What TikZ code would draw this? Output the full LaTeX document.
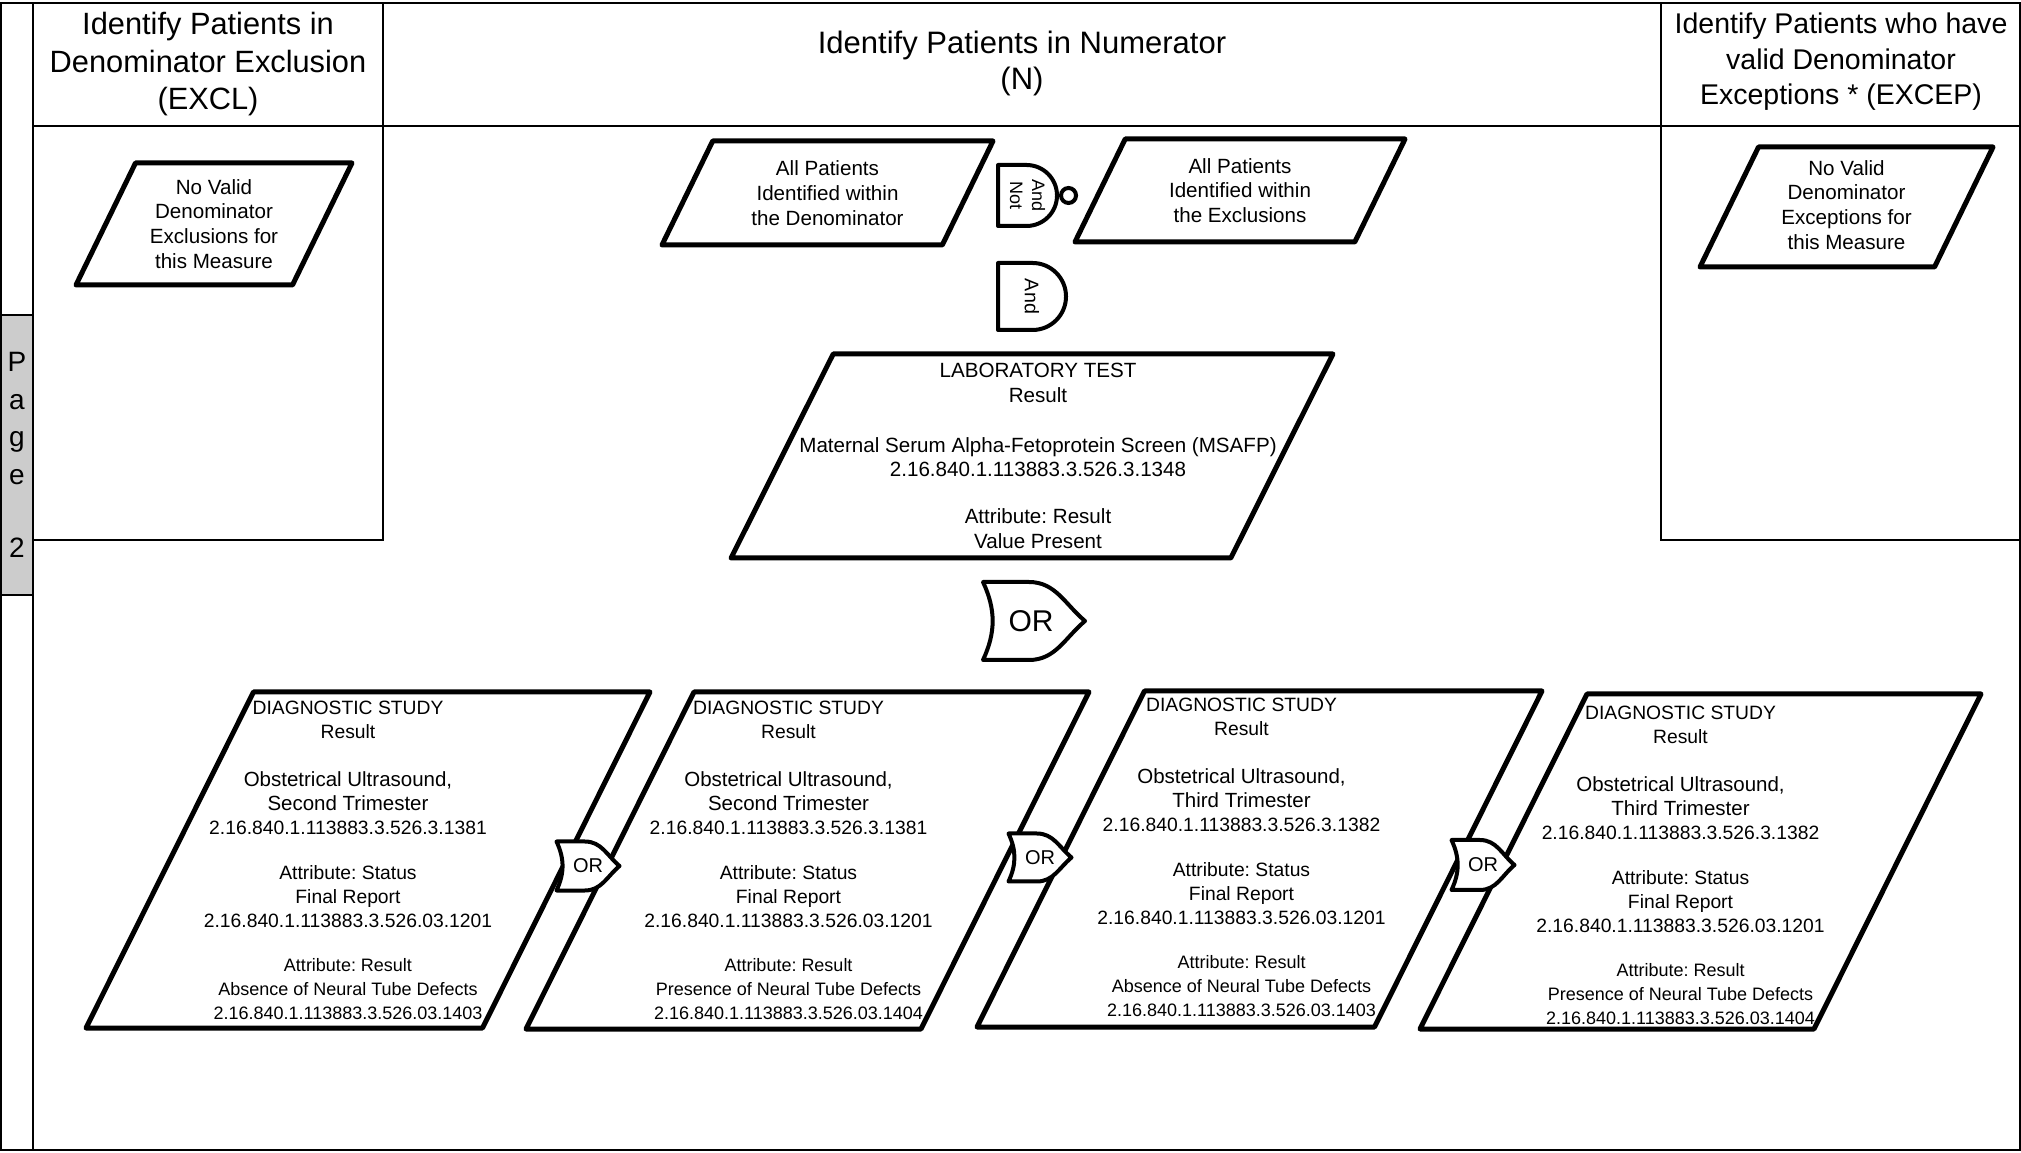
\documentclass[tikz,border=0pt]{standalone}
\usepackage{fontspec}
\setmainfont{Liberation Sans}
\frenchspacing
\usetikzlibrary{shapes.geometric, calc}
\usetikzlibrary{positioning}

\newcommand{\stfont}{\fontsize{5.49pt}{6.83pt}\selectfont}
\newcommand{\obsfont}{\fontsize{5.83pt}{6.83pt}\selectfont}
\newcommand{\attrfont}{\fontsize{5.12pt}{6.83pt}\selectfont}

\tikzstyle{frameline} = [draw=black, line width=0.02cm]
\tikzstyle{header} = [align=center, inner sep=0pt]
% size of a data element: inner ysep = half height, inner xsep = half width - height*cot(angle)
\tikzstyle{dataelement} = [trapezium, trapezium left angle=64, trapezium right angle=116, draw=black, line width=0.05cm, line join=round]
\tikzstyle{study} = [dataelement, trapezium left angle=63.5, trapezium right angle=116.5, inner xsep=1.145cm, inner ysep=1.68cm]
\tikzstyle{elementtext} = [align=center, inner sep=0pt, font=\fontsize{5.86pt}{7.03pt}\selectfont]
\tikzstyle{studytext} = [align=center, inner sep=0pt, font=\stfont]
\tikzstyle{gate} = [rectangle, inner sep=0pt, outer sep=0pt]
\tikzstyle{gateline} = [draw=black, fill=white, line width=0.04cm, line join=round]
\tikzstyle{smallor} = [gate, minimum width=0.63cm, minimum height=0.49cm]
\tikzstyle{gatetext} = [inner sep=0pt, font=\fontsize{5.69pt}{6.8pt}\selectfont]
\tikzstyle{bubble} = [circle, draw=black, fill=white, line width=0.04cm, minimum size=0.15cm, inner sep=0pt]

% gate outlines, drawn from the anchors of an empty node
\newcommand{\andoutline}[1]{%
  \draw[gateline] let \p1=(#1.north east), \p2=(#1.south east), \n1={0.5*(\y1-\y2)} in
    (#1.south west) -- (#1.north west) -- (\x1-\n1,\y1) arc[start angle=90, end angle=-90, radius=\n1] -- cycle;}
\newcommand{\oroutline}[1]{%
  \draw[gateline] (#1.north west) -- ($(#1.north west)!0.45!(#1.north east)$)
    to[out=0, in=140] (#1.east)
    to[out=-140, in=0] ($(#1.south west)!0.45!(#1.south east)$)
    -- (#1.south west) to[out=65, in=-65] (#1.north west) -- cycle;}

\begin{document}
\begin{tikzpicture}
    \useasboundingbox (0,0) rectangle (20.21,-11.53);
    %page frame and columns
    \draw[frameline] (0.01,-0.03) rectangle (20.20,-11.50);
    \draw[frameline] (0.33,-0.03) -- (0.33,-11.50);
    \draw[frameline] (0.33,-1.26) -- (20.20,-1.26);
    \draw[frameline] (3.83,-0.03) -- (3.83,-5.40) -- (0.33,-5.40);
    \draw[frameline] (16.61,-0.03) -- (16.61,-5.40) -- (20.20,-5.40);
    \node (pagetab) [frameline, fill=gray!40, minimum width=0.32cm, minimum height=2.8cm, inner sep=0pt] at (0.17,-4.55) {};
    \node (pagetext) [align=center, inner sep=0pt, font=\fontsize{7.97pt}{10.67pt}\selectfont] at (pagetab) {P\\a\\g\\e\\[0.355cm]2};

    %column headings
    \node (exclhead) [header, font=\fontsize{8.76pt}{10.67pt}\selectfont] at (2.08,-0.645) {Identify Patients in\\Denominator Exclusion\\(EXCL)};
    \node (numhead) [header, font=\fontsize{8.82pt}{10.24pt}\selectfont] at (10.22,-0.63) {Identify Patients in Numerator\\(N)};
    \node (excephead) [header, font=\fontsize{8.11pt}{10.1pt}\selectfont] at (18.41,-0.62) {Identify Patients who have\\valid Denominator\\Exceptions * (EXCEP)};

    %exclusions and exceptions
    \node (noexcl) [dataelement, inner xsep=0.785cm, inner ysep=0.61cm] at (2.14,-2.24) {};
    \node (noexcltext) [elementtext] at (noexcl) {No Valid\\Denominator\\Exclusions for\\this Measure};
    \node (noexcep) [dataelement, inner xsep=0.88cm, inner ysep=0.6cm] at (18.465,-2.07) {};
    \node (noexceptext) [elementtext] at ([yshift=0.02cm]noexcep.center) {No Valid\\Denominator\\Exceptions for\\this Measure};

    %numerator
    \node (denom) [dataelement, inner xsep=1.148cm, inner ysep=0.52cm] at (8.275,-1.93) {};
    \node (denomtext) [elementtext] at (denom) {All Patients\\Identified within\\the Denominator};
    \node (andnot) [gate, minimum width=0.59cm, minimum height=0.61cm] at (10.275,-1.955) {};
    \andoutline{andnot}
    \node (andnottext) [gatetext, rotate=-90, align=center, font=\fontsize{5.12pt}{6.26pt}\selectfont] at (andnot) {And\\Not};
    \node (notbubble) [bubble, right=0.02cm of andnot] {};
    \node (exclall) [dataelement, inner xsep=1.148cm, inner ysep=0.515cm] at (12.40,-1.905) {};
    \node (exclalltext) [elementtext] at (exclall) {All Patients\\Identified within\\the Exclusions};
    \node (andgate) [gate, minimum width=0.68cm, minimum height=0.67cm, below right=0.37cm and 0cm of andnot.south west] {};
    \andoutline{andgate}
    \node (andgatetext) [gatetext, rotate=-90, font=\fontsize{5.6pt}{6.7pt}\selectfont] at (andgate) {And};

    \node (labtest) [dataelement, trapezium left angle=63.4, trapezium right angle=116.6, inner xsep=1.988cm, inner ysep=1.02cm] at (10.32,-4.56) {};
    \node (labtesttext) [elementtext] at ([xshift=0.06cm]labtest.center) {LABORATORY TEST\\Result\\[0.25cm]Maternal Serum Alpha-Fetoprotein Screen (MSAFP)\\2.16.840.1.113883.3.526.3.1348\\[0.22cm]Attribute: Result\\Value Present};
    \node (orgate) [gate, minimum width=1.02cm, minimum height=0.78cm] at (10.34,-6.21) {};
    \oroutline{orgate}
    \node (orgatetext) [gatetext, font=\fontsize{8.54pt}{10pt}\selectfont] at ([xshift=-0.03cm]orgate.center) {OR};

    %diagnostic studies
    \node (study1) [study] at (3.68,-8.60) {};
    \node (study1text) [studytext] at ([xshift=-0.2cm]study1.center) {DIAGNOSTIC STUDY\\Result\\[0.24cm]\obsfont Obstetrical Ultrasound,\\\obsfont Second Trimester\\\stfont 2.16.840.1.113883.3.526.3.1381\\[0.21cm]\stfont Attribute: Status\\Final Report\\2.16.840.1.113883.3.526.03.1201\\[0.2cm]\attrfont Attribute: Result\\\attrfont Absence of Neural Tube Defects\\\attrfont 2.16.840.1.113883.3.526.03.1403};
    \node (study2) [study, inner xsep=1.135cm, inner ysep=1.685cm] at (8.075,-8.605) {};
    \node (study2text) [studytext] at ([xshift=-0.19cm]study2.center) {DIAGNOSTIC STUDY\\Result\\[0.24cm]\obsfont Obstetrical Ultrasound,\\\obsfont Second Trimester\\\stfont 2.16.840.1.113883.3.526.3.1381\\[0.21cm]\stfont Attribute: Status\\Final Report\\2.16.840.1.113883.3.526.03.1201\\[0.2cm]\attrfont Attribute: Result\\\attrfont Presence of Neural Tube Defects\\\attrfont 2.16.840.1.113883.3.526.03.1404};
    \node (study3) [study, inner xsep=1.15cm] at (12.595,-8.59) {};
    \node (study3text) [studytext] at ([xshift=-0.18cm, yshift=0.02cm]study3.center) {DIAGNOSTIC STUDY\\Result\\[0.24cm]\obsfont Obstetrical Ultrasound,\\\obsfont Third Trimester\\\stfont 2.16.840.1.113883.3.526.3.1382\\[0.21cm]\stfont Attribute: Status\\Final Report\\2.16.840.1.113883.3.526.03.1201\\[0.2cm]\attrfont Attribute: Result\\\attrfont Absence of Neural Tube Defects\\\attrfont 2.16.840.1.113883.3.526.03.1403};
    \node (study4) [study, inner xsep=1.135cm, inner ysep=1.675cm] at (17.005,-8.615) {};
    \node (study4text) [studytext] at ([xshift=-0.2cm, yshift=-0.04cm]study4.center) {DIAGNOSTIC STUDY\\Result\\[0.24cm]\obsfont Obstetrical Ultrasound,\\\obsfont Third Trimester\\\stfont 2.16.840.1.113883.3.526.3.1382\\[0.21cm]\stfont Attribute: Status\\Final Report\\2.16.840.1.113883.3.526.03.1201\\[0.2cm]\attrfont Attribute: Result\\\attrfont Presence of Neural Tube Defects\\\attrfont 2.16.840.1.113883.3.526.03.1404};

    %or gates between the studies
    \node (or1) [smallor] at (5.88,-8.66) {};
    \oroutline{or1}
    \node (or1text) [gatetext] at (or1) {OR};
    \node (or2) [smallor, minimum height=0.48cm] at (10.40,-8.575) {};
    \oroutline{or2}
    \node (or2text) [gatetext] at (or2) {OR};
    \node (or3) [smallor, minimum height=0.50cm] at (14.83,-8.65) {};
    \oroutline{or3}
    \node (or3text) [gatetext] at (or3) {OR};
\end{tikzpicture}
\end{document}
